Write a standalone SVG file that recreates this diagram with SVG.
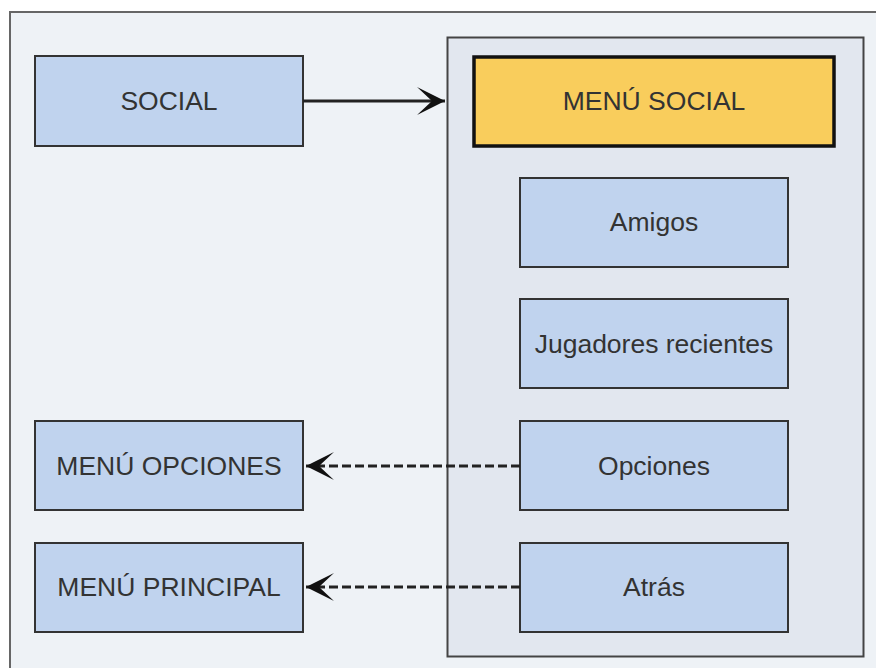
<svg xmlns="http://www.w3.org/2000/svg" width="876" height="668" viewBox="0 0 876 668">
<defs>
<style>
.box{fill:#c0d3ee;stroke:#333;stroke-width:2}
.lbl{font-family:"Liberation Sans",Arial,sans-serif;font-size:26.5px;fill:#333;text-anchor:middle;dominant-baseline:central}
.edge{fill:none;stroke:#222;stroke-width:3}
.dash{stroke-dasharray:9 4}
</style>
<marker id="arr" markerUnits="userSpaceOnUse" viewBox="0 0 30 30" refX="29" refY="15" markerWidth="30" markerHeight="30" orient="auto">
<path d="M29,15 L1,1 L16,15 L1,29 Z" fill="#111"/>
</marker>
</defs>
<rect x="0" y="0" width="876" height="668" fill="#ffffff"/>
<g id="frame">
<rect x="10" y="12" width="880" height="680" fill="#eef2f6" stroke="#666" stroke-width="2"/>
</g>
<g id="container">
<rect x="447.5" y="37.5" width="416" height="619" fill="#e2e7ef" stroke="#444" stroke-width="2"/>
</g>
<g id="social">
<rect class="box" x="35" y="56" width="268" height="90"/>
<text class="lbl" x="169" y="101">SOCIAL</text>
</g>
<g id="menu-social">
<rect x="474" y="57" width="360" height="89" fill="#f9cd5c" stroke="#111" stroke-width="3.5"/>
<text class="lbl" x="654" y="101">MENÚ SOCIAL</text>
</g>
<g id="amigos">
<rect class="box" x="520" y="178" width="268" height="89"/>
<text class="lbl" x="654" y="222">Amigos</text>
</g>
<g id="jugadores">
<rect class="box" x="520" y="299" width="268" height="89"/>
<text class="lbl" x="654" y="344">Jugadores recientes</text>
</g>
<g id="opciones">
<rect class="box" x="520" y="421" width="268" height="89"/>
<text class="lbl" x="654" y="466">Opciones</text>
</g>
<g id="atras">
<rect class="box" x="520" y="543" width="268" height="89"/>
<text class="lbl" x="654" y="587">Atrás</text>
</g>
<g id="menu-opciones">
<rect class="box" x="35" y="421" width="268" height="89"/>
<text class="lbl" x="169" y="466">MENÚ OPCIONES</text>
</g>
<g id="menu-principal">
<rect class="box" x="35" y="543" width="268" height="89"/>
<text class="lbl" x="169" y="587">MENÚ PRINCIPAL</text>
</g>
<g id="connectors">
<path class="edge" d="M303,101 L445,101" marker-end="url(#arr)"/>
<path class="edge dash" d="M520,466 L306,466" marker-end="url(#arr)"/>
<path class="edge dash" d="M520,587 L306,587" marker-end="url(#arr)"/>
</g>
</svg>
